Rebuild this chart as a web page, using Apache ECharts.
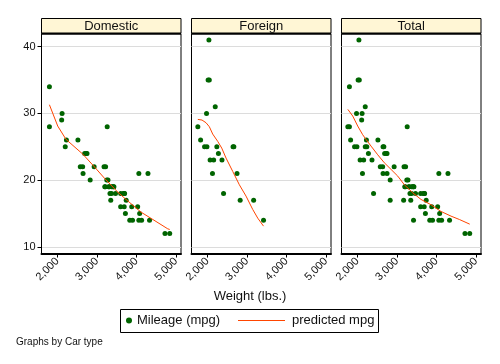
<!DOCTYPE html>
<html><head><meta charset="utf-8">
<script src="https://cdn.jsdelivr.net/npm/echarts@6/dist/echarts.min.js"></script>
<style>html,body{margin:0;padding:0;background:#fff}#c{width:500px;height:364px}</style>
</head><body><div id="c"></div>
<script>
// ---- data (auto dataset: weight in lbs, mileage in mpg) ----
const panelNames = ['Domestic', 'Foreign', 'Total'];
const xTicks = [2000, 3000, 4000, 5000];
const yTicks = [10, 20, 30, 40];

const domWeight = [2930,3350,2640,3250,4080,3670,2230,3280,3880,3400,4330,3900,4290,2110,3690,3180,3220,2750,3430,2120,3600,3600,3740,1800,2650,4840,4720,3830,2580,4060,3720,3370,4130,2830,4060,3310,3300,3690,3370,2730,4030,3260,1800,2200,2520,3330,3700,3470,3210,3200,3420,2690];
const domMpg    = [22,17,22,20,15,18,26,20,16,19,14,14,21,29,16,22,22,24,19,30,18,16,17,28,21,12,12,14,22,14,15,18,14,20,21,19,19,18,19,24,16,28,34,25,26,18,18,18,19,19,19,24];
const forWeight = [2830,2070,2650,2370,2020,2280,2750,2130,2240,1760,1980,3420,1830,2050,2410,2200,2670,2160,2040,1930,1990,3170];
const forMpg    = [17,23,25,23,35,24,21,21,25,28,30,14,26,35,18,31,25,23,41,25,25,17];

// predicted mpg
const domFitW   = [1800,2010,2220,2642,2920,3188,3509,3736,4115,4494,4790,4840];
const domFitMpg = [31.3,28.1,26.1,23.9,22.1,20.3,18.3,17.1,15.2,13.8,12.7,12.6];
const forFitW   = [1760,1866,1967,2051,2136,2263,2364,2473,2642,2809,2978,3147,3274,3420];
const forFitMpg = [29.1,29.0,28.6,28.0,26.9,25.8,24.8,23.3,21.3,19.3,17.6,15.6,14.3,13.1];
const totFitW   = [1760,1884,2010,2136,2220,2346,2515,2682,2852,3021,3188,3400,3610,3863,4115,4368,4578,4840];
const totFitMpg = [30.6,29.6,28.1,26.8,26.1,25.1,23.8,22.6,21.6,20.6,19.3,18.1,17.1,16.3,15.3,14.6,14.1,13.4];

const totWeight = domWeight.concat(forWeight);
const totMpg = domMpg.concat(forMpg);

const zip = (a, b) => a.map((v, i) => [v, b[i]]);
const scatterSets = [zip(domWeight, domMpg), zip(forWeight, forMpg), zip(totWeight, totMpg)];
const fitSets = [zip(domFitW, domFitMpg), zip(forFitW, forFitMpg), zip(totFitW, totFitMpg)];

// ---- layout ----
const FONT = 'Liberation Sans, Arial, sans-serif';
const panelLeft = [41.5, 191.5, 341.5];
const panelW = 139.5, gridTop = 34, gridH = 219.5;
const txt = '#111';

const grids = [], xAxes = [], yAxes = [], series = [], graphics = [];
for (let i = 0; i < 3; i++) {
  grids.push({left: panelLeft[i], top: gridTop, width: panelW, height: gridH,
    show: true, borderColor: '#000', borderWidth: 1, backgroundColor: '#fff'});
  xAxes.push({type: 'value', gridIndex: i, min: 1600, max: 5125,
    axisLine: {show: true, lineStyle: {color: '#000', width: 2}},
    axisTick: {show: true, length: 4, customValues: xTicks, lineStyle: {color: '#000', width: 1}},
    axisLabel: {show: true, customValues: xTicks, rotate: 45, margin: 6, fontSize: 11, fontFamily: FONT, color: txt,
      formatter: v => v.toLocaleString('en-US')},
    splitLine: {show: false}});
  yAxes.push({type: 'value', gridIndex: i, min: 9, max: 41.9,
    axisLine: {show: i === 0, lineStyle: {color: '#000', width: 1}},
    axisTick: {show: i === 0, length: 4, customValues: yTicks, lineStyle: {color: '#000'}},
    axisLabel: {show: i === 0, customValues: yTicks, margin: 6, fontSize: 11, fontFamily: FONT, color: txt},
    splitLine: {show: true, lineStyle: {color: '#dcdcdc', width: 1}}});
  series.push({type: 'scatter', name: 'Mileage (mpg)', xAxisIndex: i, yAxisIndex: i,
    data: scatterSets[i], symbol: 'circle', symbolSize: 5, itemStyle: {color: '#006400', opacity: 1}, z: 2});
  series.push({type: 'line', name: 'predicted mpg', xAxisIndex: i, yAxisIndex: i,
    data: fitSets[i], symbol: 'none', showSymbol: false, lineStyle: {color: '#ff4500', width: 1},
    itemStyle: {color: '#ff4500'}, z: 3});
  // strip header
  graphics.push({type: 'rect', shape: {x: panelLeft[i], y: 18.5, width: panelW, height: 15},
    style: {fill: '#fff6d5', stroke: '#000', lineWidth: 1}, z: 10});
  graphics.push({type: 'line', shape: {x1: panelLeft[i], y1: 33.5, x2: panelLeft[i] + panelW, y2: 33.5},
    style: {stroke: '#000', lineWidth: 2}, z: 11});
  graphics.push({type: 'text', x: panelLeft[i] + panelW / 2, y: 26,
    style: {text: panelNames[i], font: '13px ' + FONT, fill: txt, textAlign: 'center', textVerticalAlign: 'middle'}, z: 12});
}
// legend box
graphics.push({type: 'rect', shape: {x: 120.5, y: 309.5, width: 258, height: 23},
  style: {fill: 'none', stroke: '#000', lineWidth: 1}, z: 1});

const chart = echarts.init(document.getElementById('c'), null, {renderer: 'canvas'});
chart.setOption({
  animation: false,
  backgroundColor: '#fff',
  title: [
    {text: 'Weight (lbs.)', left: 'center', top: 290, padding: 0,
      textStyle: {fontSize: 13, fontWeight: 'normal', fontFamily: FONT, color: txt}},
    {text: 'Graphs by Car type', left: 16, top: 337, padding: 0,
      textStyle: {fontSize: 10, fontWeight: 'normal', fontFamily: FONT, color: txt}}
  ],
  legend: [
    {data: ['Mileage (mpg)'], left: 126, top: 314, padding: 0, itemWidth: 6, itemHeight: 6,
      textStyle: {fontSize: 13, fontFamily: FONT, color: txt}, selectedMode: false},
    {data: [{name: 'predicted mpg', icon: 'rect'}], left: 238, top: 314, padding: 0, itemWidth: 47, itemHeight: 1,
      textStyle: {fontSize: 13, fontFamily: FONT, color: txt, padding: [0, 0, 0, 2]}, selectedMode: false}
  ],
  grid: grids, xAxis: xAxes, yAxis: yAxes, series: series, graphic: graphics
});
</script></body></html>
